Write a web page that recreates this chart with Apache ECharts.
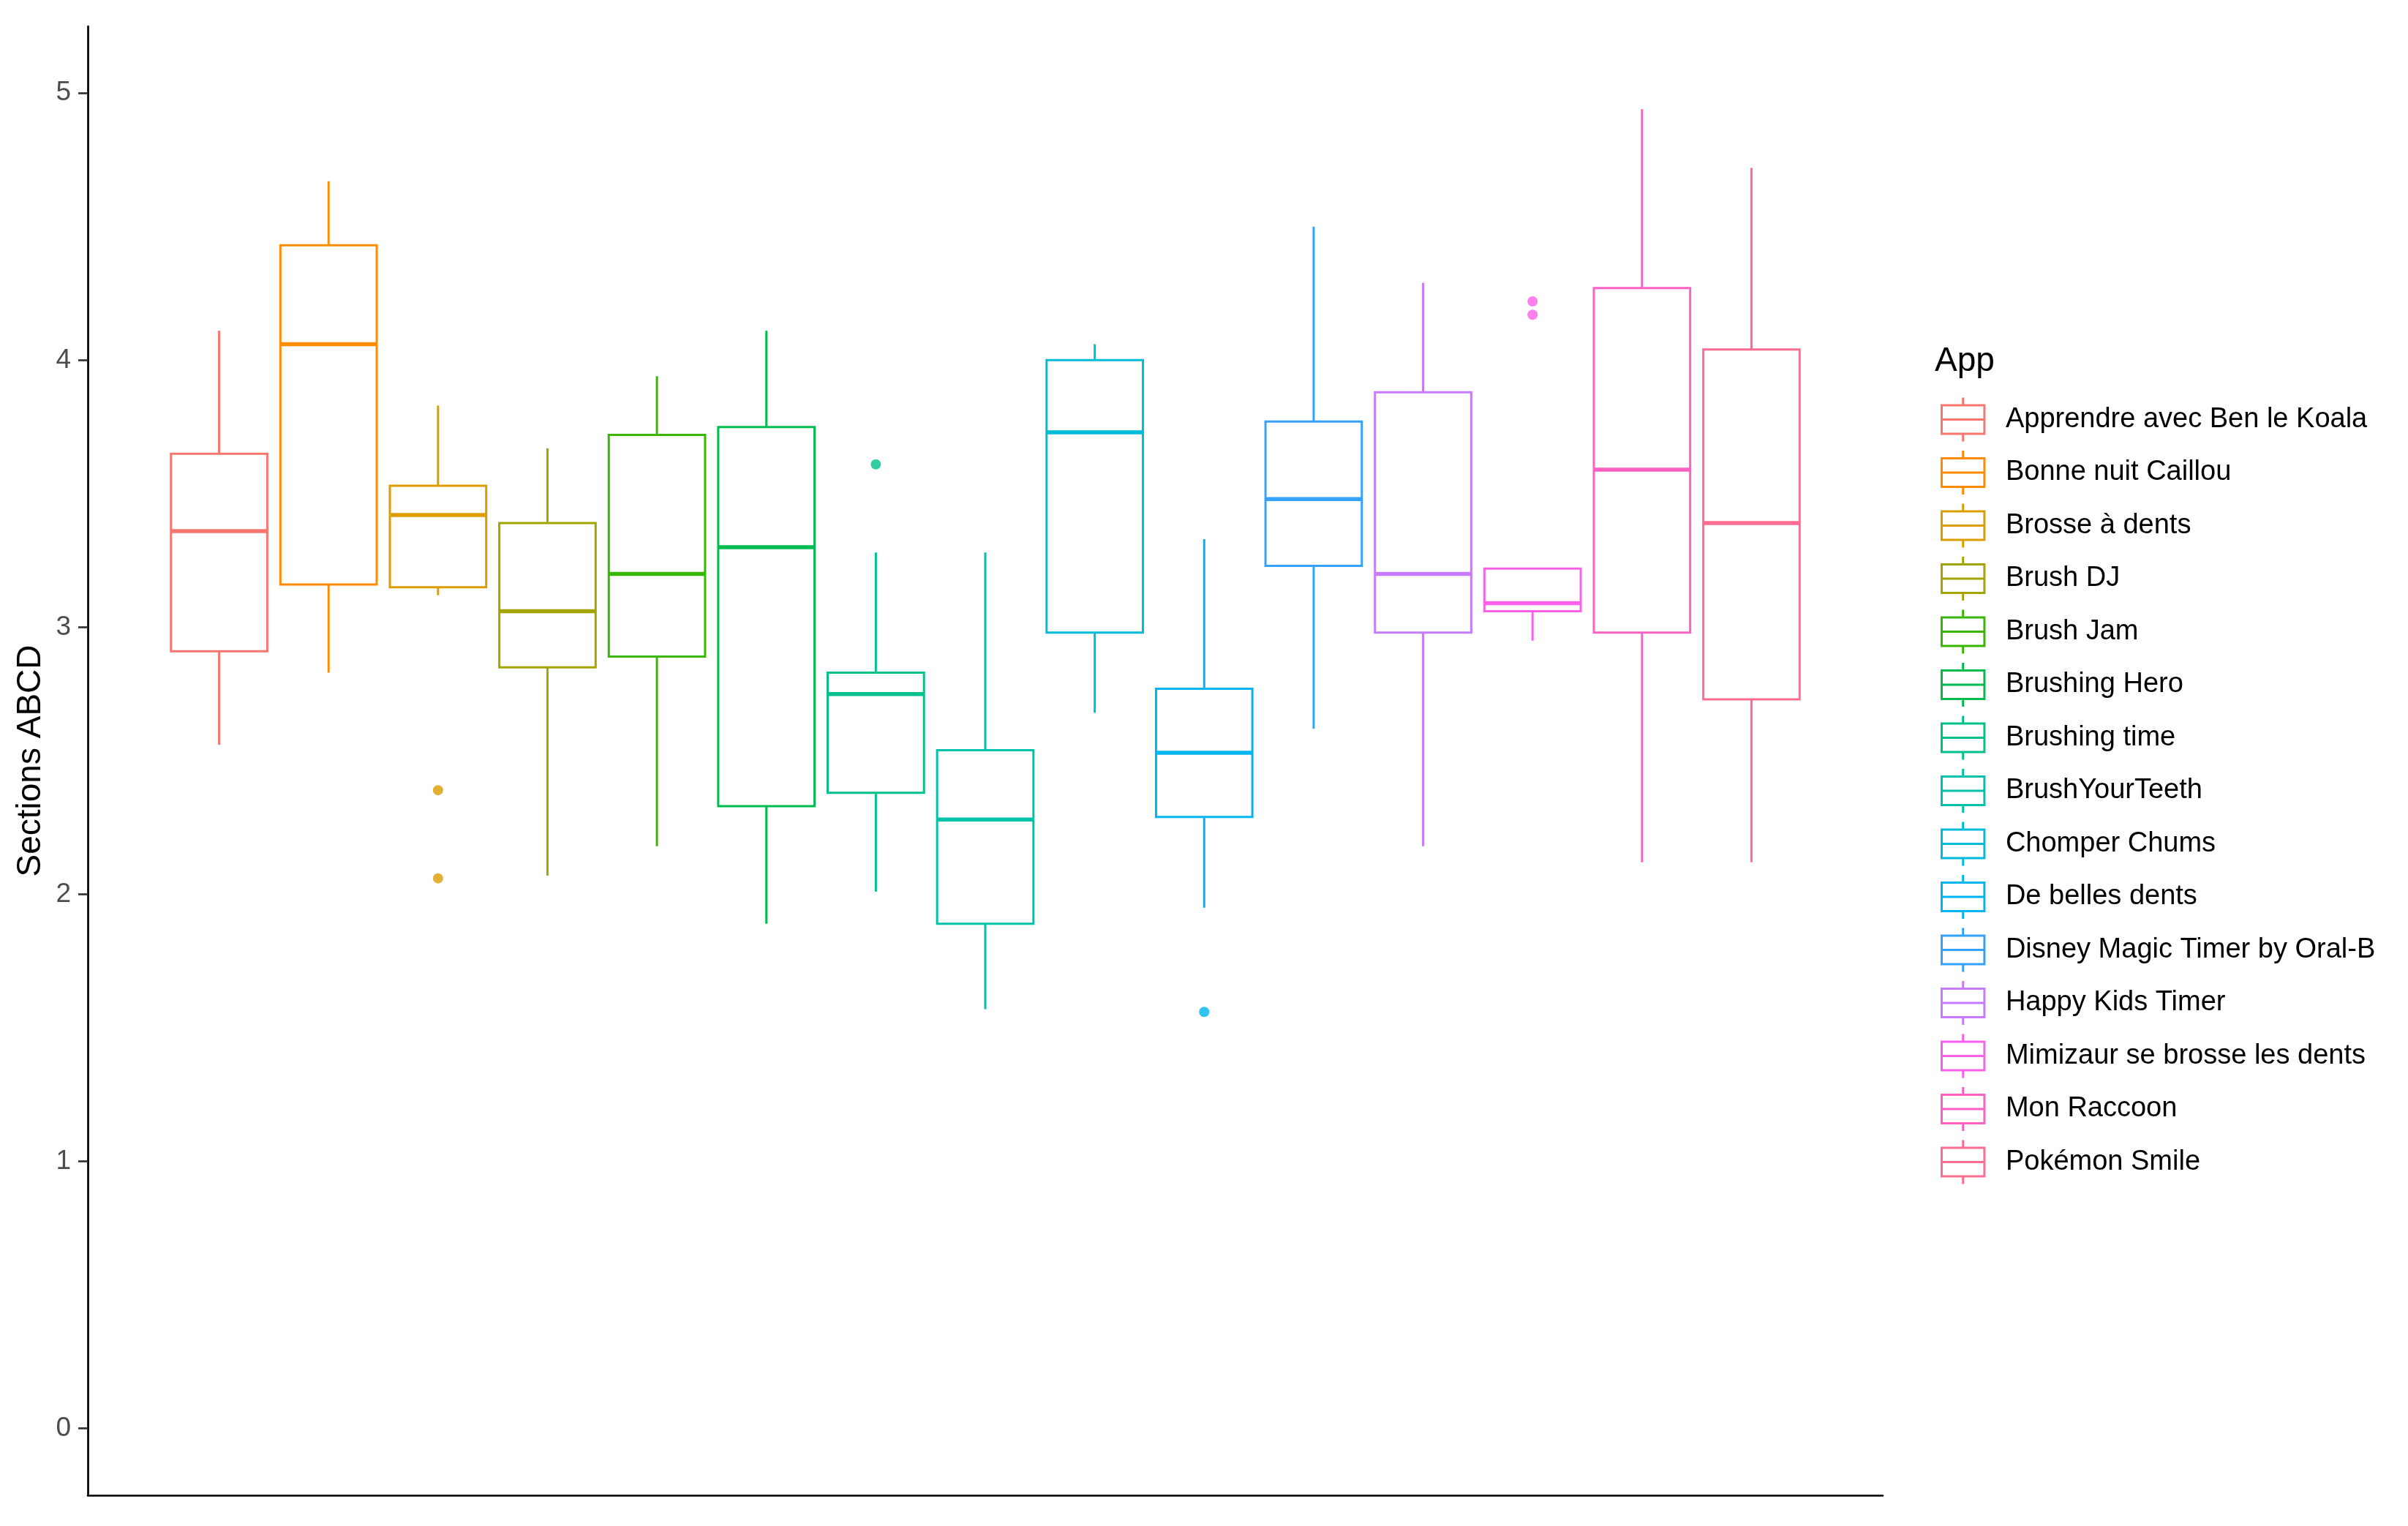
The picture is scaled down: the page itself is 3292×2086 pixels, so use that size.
<!DOCTYPE html>
<html>
<head>
<meta charset="utf-8">
<script src="https://cdn.jsdelivr.net/npm/echarts@6/dist/echarts.min.js"></script>
<style>
  html, body { margin: 0; padding: 0; background: #ffffff; }
  #chart { width: 3292px; height: 2086px; }
</style>
</head>
<body>
<div id="chart"></div>
<script>
// ---- data ----
const apps = [
  'Apprendre avec Ben le Koala', 'Bonne nuit Caillou', 'Brosse à dents', 'Brush DJ', 'Brush Jam',
  'Brushing Hero', 'Brushing time', 'BrushYourTeeth', 'Chomper Chums', 'De belles dents',
  'Disney Magic Timer by Oral-B', 'Happy Kids Timer', 'Mimizaur se brosse les dents', 'Mon Raccoon', 'Pokémon Smile'
];
const colors = [
  '#F8766D', '#FF8C00', '#DB9D00', '#A3A500', '#39B600',
  '#00BB4E', '#00C08B', '#00C1AA', '#00BCD8', '#00B4F0',
  '#35A2FF', '#C77CFF', '#FB61E8', '#FF61C3', '#FF6C91'
];
const lowerWhisker = [2.56, 2.83, 3.12, 2.07, 2.18, 1.89, 2.01, 1.57, 2.68, 1.95, 2.62, 2.18, 2.95, 2.12, 2.12];
const q1Values     = [2.91, 3.16, 3.15, 2.85, 2.89, 2.33, 2.38, 1.89, 2.98, 2.29, 3.23, 2.98, 3.06, 2.98, 2.73];
const medians      = [3.36, 4.06, 3.42, 3.06, 3.20, 3.30, 2.75, 2.28, 3.73, 2.53, 3.48, 3.20, 3.09, 3.59, 3.39];
const q3Values     = [3.65, 4.43, 3.53, 3.39, 3.72, 3.75, 2.83, 2.54, 4.00, 2.77, 3.77, 3.88, 3.22, 4.27, 4.04];
const upperWhisker = [4.11, 4.67, 3.83, 3.67, 3.94, 4.11, 3.28, 3.28, 4.06, 3.33, 4.50, 4.29, 3.22, 4.94, 4.72];
const outliers = [[], [], [2.39, 2.06], [], [], [], [3.61], [], [], [1.56], [], [], [4.22, 4.17], [], []];
const yTicks = [0, 1, 2, 3, 4, 5];

// ---- styles ----
const FONT = '"Liberation Sans", Arial, sans-serif';
const BOX_LW = 3;
const MED_LW = 5.5;
const keyIcon = 'path://M29.2,0 L29.2,10.5 M0,10.5 L58.4,10.5 L58.4,49.5 L0,49.5 Z M0,30 L58.4,30 M29.2,49.5 L29.2,60';

function renderBox(params, api) {
  const x = api.value(0);
  const c = api.visual('color');
  const pLo = api.coord([x, api.value(1)]);
  const pQ1 = api.coord([x, api.value(2)]);
  const pMed = api.coord([x, api.value(3)]);
  const pQ3 = api.coord([x, api.value(4)]);
  const pHi = api.coord([x, api.value(5)]);
  const half = api.size([0.88, 0])[0] / 2;
  const cx = pMed[0];
  const lineStyle = { stroke: c, lineWidth: BOX_LW };
  return {
    type: 'group',
    children: [
      { type: 'line', shape: { x1: cx, y1: pHi[1], x2: cx, y2: pQ3[1] }, style: lineStyle },
      { type: 'line', shape: { x1: cx, y1: pQ1[1], x2: cx, y2: pLo[1] }, style: lineStyle },
      { type: 'rect', shape: { x: cx - half, y: pQ3[1], width: 2 * half, height: pQ1[1] - pQ3[1] },
        style: { fill: '#ffffff', stroke: c, lineWidth: BOX_LW } },
      { type: 'line', shape: { x1: cx - half, y1: pMed[1], x2: cx + half, y2: pMed[1] },
        style: { stroke: c, lineWidth: MED_LW } }
    ]
  };
}

const series = [];
apps.forEach(function (name, i) {
  series.push({
    type: 'custom',
    name: name,
    renderItem: renderBox,
    itemStyle: { color: colors[i] },
    encode: { x: 0, y: [1, 2, 3, 4, 5] },
    data: [[i + 1, lowerWhisker[i], q1Values[i], medians[i], q3Values[i], upperWhisker[i]]],
    z: 2
  });
  if (outliers[i].length) {
    series.push({
      type: 'scatter',
      name: name,
      symbol: 'circle',
      symbolSize: 14,
      itemStyle: { color: colors[i] },
      data: outliers[i].map(function (v) { return [i + 1, v]; }),
      z: 3
    });
  }
});

const chart = echarts.init(document.getElementById('chart'), null, { renderer: 'canvas' });
chart.setOption({
  backgroundColor: '#ffffff',
  animation: false,
  textStyle: { fontFamily: FONT },
  title: {
    text: 'App',
    left: 2645,
    top: 471,
    padding: 0,
    textStyle: { fontFamily: FONT, fontSize: 46, fontWeight: 'normal', color: '#000000' }
  },
  legend: {
    orient: 'vertical',
    left: 2653,
    top: 542,
    padding: 0,
    itemWidth: 58.4,
    itemHeight: 60,
    itemGap: 9.5,
    selectedMode: false,
    textStyle: { fontFamily: FONT, fontSize: 38, color: '#000000', padding: [0, 0, 0, 24] },
    data: apps.map(function (name, i) {
      return {
        name: name,
        icon: keyIcon,
        itemStyle: { color: 'rgba(0,0,0,0)', borderColor: colors[i], borderWidth: BOX_LW }
      };
    })
  },
  grid: { left: 120, right: 718, top: 36, bottom: 42, containLabel: false },
  xAxis: {
    type: 'value',
    min: -0.2,
    max: 16.2,
    axisLine: { show: true, onZero: false, lineStyle: { color: '#000000', width: 2.7 } },
    axisTick: { show: false },
    axisLabel: { show: false },
    splitLine: { show: false }
  },
  yAxis: {
    type: 'value',
    min: -0.25,
    max: 5.25,
    name: 'Sections ABCD',
    nameLocation: 'middle',
    nameGap: 54,
    nameTextStyle: { fontFamily: FONT, fontSize: 46, color: '#000000' },
    axisLine: { show: true, onZero: false, lineStyle: { color: '#000000', width: 2.7 } },
    axisTick: { show: true, length: 13, customValues: yTicks, lineStyle: { color: '#333333', width: 2.7 } },
    axisLabel: { show: true, margin: 23, padding: [6, 0, 0, 0], customValues: yTicks, fontFamily: FONT, fontSize: 37, color: '#4D4D4D' },
    splitLine: { show: false }
  },
  series: series
});
</script>
</body>
</html>
